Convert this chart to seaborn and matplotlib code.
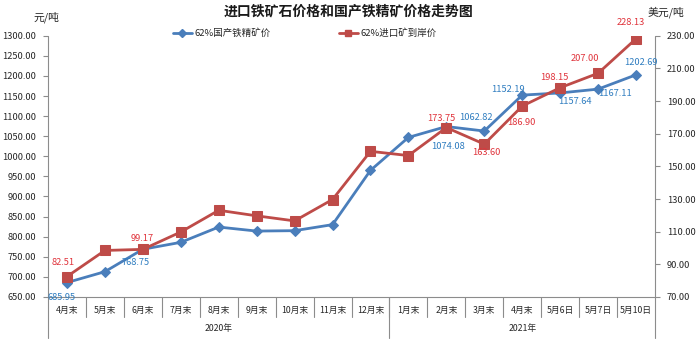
import matplotlib
matplotlib.use("Agg")
import matplotlib.pyplot as plt
from matplotlib.lines import Line2D
import seaborn as sns
import pandas as pd

# Month labels along the category axis, grouped by year
categories = ["4月末", "5月末", "6月末", "7月末", "8月末", "9月末", "10月末", "11月末", "12月末",
              "1月末", "2月末", "3月末", "4月末", "5月6日", "5月7日", "5月10日"]
year_groups = ["2020年", "2021年"]
year_sizes = [9, 7]

# 62% domestic concentrate price (yuan/ton, left axis)
domestic_price = [685.95, 713.0, 768.75, 786.0, 824.0, 814.0, 815.0, 830.0, 965.0,
                  1047.0, 1074.08, 1062.82, 1152.19, 1157.64, 1167.11, 1202.69]
# 62% imported ore CIF price (USD/ton, right axis)
import_price = [82.51, 98.5, 99.17, 109.8, 123.1, 119.7, 116.6, 129.7, 159.2,
                156.6, 173.75, 163.60, 186.90, 198.15, 207.00, 228.13]
labeled_points = [0, 2, 10, 11, 12, 13, 14, 15]

left_ticks = [650 + 50 * i for i in range(14)]
right_ticks = [70 + 20 * i for i in range(9)]

series_names = ["62%国产铁精矿价", "62%进口矿到岸价"]
title = "进口铁矿石价格和国产铁精矿价格走势图"

df = pd.DataFrame({
    "pos": list(range(len(categories))),
    "month": categories,
    "domestic": domestic_price,
    "imported": import_price,
})

sns.set_theme(style="white")
plt.rcParams["font.family"] = ["Noto Sans CJK SC", "DejaVu Sans"]

BLUE = "#4A7EBB"
RED = "#BE4B48"
BLUE_TXT = "#2F7DC0"
RED_TXT = "#E0343C"
AXIS = "#8C8C8C"
TXT = "#262626"

fig = plt.figure(figsize=(6.98, 3.42), dpi=100)
ax = fig.add_axes([48 / 698, 1 - 297 / 342, (655 - 48) / 698, (297 - 35.7) / 342])
ax2 = ax.twinx()

sns.lineplot(data=df, x="pos", y="domestic", ax=ax, color=BLUE, lw=2.0,
             marker="D", markersize=5, markeredgecolor=BLUE, legend=False)
sns.lineplot(data=df, x="pos", y="imported", ax=ax2, color=RED, lw=2.0,
             marker="s", markersize=6.5, markeredgecolor=RED, legend=False)

n = len(categories)
ax.set_xlim(-0.5, n - 0.5)
ax.set_ylim(650, 1300)
ax2.set_ylim(70, 230)
ax.set_yticks(left_ticks)
ax.set_yticklabels([f"{v:.2f}" for v in left_ticks])
ax2.set_yticks(right_ticks)
ax2.set_yticklabels([f"{v:.2f}" for v in right_ticks])
ax.set_xticks([])
ax.set_xlabel("")
ax.set_ylabel("")
ax2.set_ylabel("")

for a in (ax, ax2):
    for s in a.spines.values():
        s.set_visible(False)
    a.grid(False)
    a.set_facecolor("none")
ax.tick_params(axis="y", direction="out", length=3.6, width=0.8, color=AXIS,
               pad=5, labelsize=6.7, labelcolor=TXT, left=True)
ax2.tick_params(axis="y", direction="out", length=3.6, width=0.8, color=AXIS,
                pad=5, labelsize=6.7, labelcolor=TXT, right=True)

# Axis frame lines and the two-level category axis
tr = ax.get_xaxis_transform()
line_kw = dict(color=AXIS, lw=0.8, clip_on=False, transform=tr)
ax.add_line(Line2D([-0.5, n - 0.5], [0, 0], **line_kw))
ax.add_line(Line2D([-0.5, -0.5], [1, -0.157], **line_kw))
ax.add_line(Line2D([n - 0.5, n - 0.5], [1, -0.157], **line_kw))
for i in range(1, n):
    ax.add_line(Line2D([i - 0.5, i - 0.5], [0, -0.0765], **line_kw))
for i, lab in enumerate(categories):
    ax.text(i, -0.05, lab, transform=tr, ha="center", va="center",
            fontsize=6.3, color=TXT)
start = 0
for g, size in zip(year_groups, year_sizes):
    if start > 0:
        ax.add_line(Line2D([start - 0.5, start - 0.5], [0, -0.157], **line_kw))
    ax.text(start + (size - 1) / 2, -0.122, g, transform=tr, ha="center",
            va="center", fontsize=6.3, color=TXT)
    start += size

# Value labels
blue_off = {0: (-5, -15), 2: (-7, -13), 10: (2, -20), 11: (-8, 14),
            12: (-14, 6), 13: (15, -9), 14: (17, -4), 15: (5, 12)}
red_off = {0: (-4, 14), 2: (-1, 11), 10: (-5, 9), 11: (2, -8),
           12: (-1, -16), 13: (-6, 10), 14: (-13, 15), 15: (-5, 16)}
for i in labeled_points:
    ax.annotate(f"{domestic_price[i]:.2f}", (i, domestic_price[i]),
                xytext=blue_off[i], textcoords="offset pixels",
                ha="center", va="center", fontsize=6.7, color=BLUE_TXT,
                annotation_clip=False)
    ax2.annotate(f"{import_price[i]:.2f}", (i, import_price[i]),
                 xytext=red_off[i], textcoords="offset pixels",
                 ha="center", va="center", fontsize=6.7, color=RED_TXT,
                 annotation_clip=False)

# Legend
handles = [Line2D([], [], color=BLUE, lw=2, marker="D", markersize=4),
           Line2D([], [], color=RED, lw=2, marker="s", markersize=5)]
ax2.legend(handles, series_names, loc="center left",
           bbox_to_anchor=(173 / 698, 1 - 33 / 342), bbox_transform=fig.transFigure,
           ncol=2, frameon=False, fontsize=6.8, handlelength=2.0,
           handletextpad=0.3, columnspacing=7.2, borderpad=0, borderaxespad=0,
           labelcolor=TXT)

fig.text(349 / 698, 1 - 12 / 342, title, ha="center", va="center",
         fontsize=10, fontweight="bold", color="#1a1a1a")
fig.text(46.5 / 698, 1 - 17 / 342, "元/吨", ha="center", va="center",
         fontsize=7.8, color=TXT)
fig.text(666 / 698, 1 - 12 / 342, "美元/吨", ha="center", va="center",
         fontsize=7.8, color=TXT)

fig.savefig("out.png", dpi=100, facecolor="white")
